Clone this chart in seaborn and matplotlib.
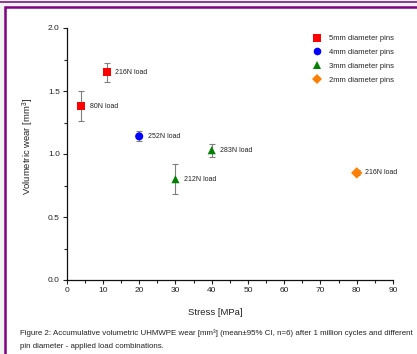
import matplotlib
matplotlib.use("Agg")
import matplotlib.pyplot as plt
from matplotlib.patches import Rectangle
from matplotlib.lines import Line2D
from matplotlib.ticker import MultipleLocator
import seaborn as sns
import pandas as pd

# Wear results per pin diameter / applied load
pin_groups = ["5mm diameter pins", "5mm diameter pins", "4mm diameter pins",
              "3mm diameter pins", "3mm diameter pins", "2mm diameter pins"]
stress_mpa = [4, 11, 20, 30, 40, 80]
wear_mm3 = [1.38, 1.65, 1.14, 0.80, 1.03, 0.85]
ci95 = [0.12, 0.075, 0.04, 0.12, 0.05, 0.02]
load_labels = ["80N load", "216N load", "252N load", "212N load", "283N load", "216N load"]

group_order = ["5mm diameter pins", "4mm diameter pins", "3mm diameter pins", "2mm diameter pins"]
group_colors = ["#ff0000", "#0000ff", "#008000", "#ff8000"]
group_markers = ["s", "o", "^", "D"]

df = pd.DataFrame({"pin": pin_groups, "stress": stress_mpa, "wear": wear_mm3,
                   "ci": ci95, "load": load_labels})

sns.set_theme(style="ticks")
plt.rcParams["font.family"] = ["Liberation Sans", "DejaVu Sans"]
plt.rcParams["mathtext.fontset"] = "custom"
plt.rcParams["mathtext.rm"] = "Liberation Sans"

fig = plt.figure(figsize=(4.17, 3.54), dpi=100)
fig.patch.set_facecolor("#f2f2f2")

# page frame
fig.add_artist(Line2D([0.0, 1.0], [1 - 1.5 / 354, 1 - 1.5 / 354], transform=fig.transFigure,
                      color="#7a1a7a", lw=1.2))
fig.add_artist(Rectangle((5 / 417, -0.05), 1.2, 1 - 7 / 354 + 0.05, transform=fig.transFigure,
                         facecolor="white", edgecolor="#800080", lw=1.8, zorder=0))

ax = fig.add_axes([66.7 / 417, 1 - 280 / 354, (393 - 66.7) / 417, (280 - 28) / 354])
ax.set_facecolor("white")

ax.errorbar(df["stress"], df["wear"], yerr=df["ci"], fmt="none", ecolor="#7f7f7f",
            elinewidth=0.8, capsize=2.2, capthick=0.8, zorder=1)

sns.scatterplot(data=df, x="stress", y="wear", hue="pin", style="pin",
                hue_order=group_order, style_order=group_order,
                palette=dict(zip(group_order, group_colors)),
                markers=dict(zip(group_order, group_markers)),
                s=34, edgecolor="none", linewidth=0, ax=ax, zorder=3)

for x, y, lab in zip(df["stress"], df["wear"], df["load"]):
    ax.annotate(lab, (x, y), xytext=(6, 0), textcoords="offset points",
                fontsize=5, va="center", ha="left", color="#222222")

ax.set_xlim(0, 90)
ax.set_ylim(0, 2.0)
ax.xaxis.set_major_locator(MultipleLocator(10))
ax.xaxis.set_minor_locator(MultipleLocator(5))
ax.yaxis.set_major_locator(MultipleLocator(0.5))
ax.yaxis.set_minor_locator(MultipleLocator(0.25))
ax.tick_params(which="major", length=3, width=0.8, labelsize=6, pad=2, colors="#222222")
ax.tick_params(which="minor", length=2, width=0.8, colors="#222222")
for s in ("top", "right"):
    ax.spines[s].set_visible(False)
for s in ("left", "bottom"):
    ax.spines[s].set_linewidth(0.9)
    ax.spines[s].set_color("#111111")

ax.set_xlabel("Stress [MPa]", fontsize=6.8, color="#222222")
ax.set_ylabel("Volumetric wear [mm$^3$]", fontsize=6.8, color="#222222")
ax.xaxis.set_label_coords((215 - 66.7) / (393 - 66.7), -(308 - 280) / (280 - 28))
ax.yaxis.set_label_coords(-(66.7 - 36) / (393 - 66.7), (280 - 146) / (280 - 28))

handles, labels = ax.get_legend_handles_labels()
for h in handles:
    try:
        h.set_markersize(5.5)
    except AttributeError:
        pass
ax.legend(handles, labels, loc="upper left", bbox_to_anchor=(0.745, 0.985), frameon=False,
          fontsize=5.5, handletextpad=0.9, labelspacing=0.85, markerscale=1.0,
          borderaxespad=0, handlelength=1.2)

fig.text(20 / 417, 1 - 333 / 354,
         "Figure 2: Accumulative volumetric UHMWPE wear [mm\u00b3] (mean\u00b195% CI, n=6) after 1 million cycles and different",
         fontsize=5.65, va="center", ha="left", color="#222222")
fig.text(20 / 417, 1 - 347 / 354, "pin diameter - applied load combinations.",
         fontsize=5.65, va="center", ha="left", color="#222222")

fig.savefig("out.png", dpi=100, facecolor=fig.get_facecolor())
